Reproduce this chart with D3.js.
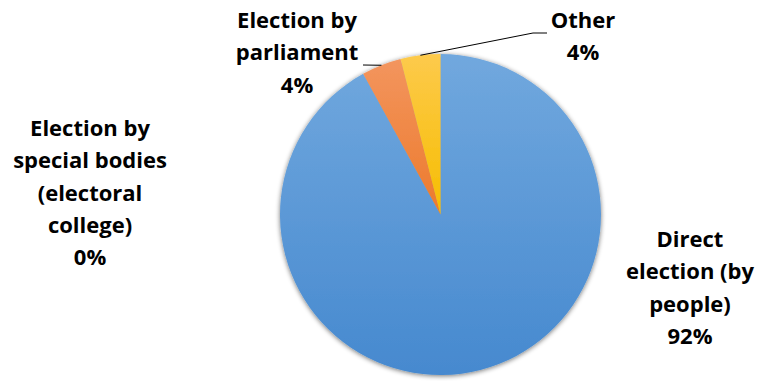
<!DOCTYPE html>
<html>
<head>
<meta charset="utf-8">
<script src="https://cdn.jsdelivr.net/npm/d3@7"></script>
<style>
  html, body { margin: 0; padding: 0; background: #ffffff; }
  svg { display: block; }
  .lbl { font-family: "Open Sans", sans-serif; font-weight: 700; font-size: 22px; fill: #000; }
</style>
</head>
<body>
<svg id="chart" width="757" height="381"></svg>
<script>
// Method of electing the head of state, share of countries (%)
const categories = [
  "Direct election (by people)",
  "Election by special bodies (electoral college)",
  "Election by parliament",
  "Other"
];
const shares = [92, 0, 4, 4];
const percentLabels = ["92%", "0%", "4%", "4%"];

// Label text split over lines, in the same order as categories
const labelLines = [
  ["Direct", "election (by", "people)"],
  ["Election by", "special bodies", "(electoral", "college)"],
  ["Election by", "parliament"],
  ["Other"]
];

const colorsTop = ["#71a8de", "#71a8de", "#f3955e", "#fdca4c"];
const colorsBottom = ["#4689cf", "#4689cf", "#ec7a2c", "#f6bd00"];

const width = 757, height = 381;
const cx = 440.5, cy = 214.5, radius = 160.5;
const lineGap = 32.3;

const svg = d3.select("#chart");
const defs = svg.append("defs");

// soft outer shadow beneath the pie
const shadow = defs.append("filter")
  .attr("id", "pieShadow")
  .attr("x", "-10%").attr("y", "-10%")
  .attr("width", "120%").attr("height", "120%");
shadow.append("feGaussianBlur").attr("in", "SourceAlpha").attr("stdDeviation", 2.5).attr("result", "blur");
shadow.append("feOffset").attr("in", "blur").attr("dx", 0).attr("dy", 1).attr("result", "off");
shadow.append("feComponentTransfer").attr("in", "off").attr("result", "soft")
  .append("feFuncA").attr("type", "linear").attr("slope", 0.55);
const merge = shadow.append("feMerge");
merge.append("feMergeNode").attr("in", "soft");
merge.append("feMergeNode").attr("in", "SourceGraphic");

categories.forEach((c, i) => {
  const g = defs.append("linearGradient")
    .attr("id", "grad" + i)
    .attr("x1", 0).attr("y1", 0).attr("x2", 0).attr("y2", 1);
  g.append("stop").attr("offset", "0%").attr("stop-color", colorsTop[i]);
  g.append("stop").attr("offset", "100%").attr("stop-color", colorsBottom[i]);
});

const pie = d3.pie().sort(null).value(d => d);
const arcs = pie(shares);
const arc = d3.arc().innerRadius(0).outerRadius(radius);

const pieG = svg.append("g")
  .attr("transform", `translate(${cx},${cy})`)
  .attr("filter", "url(#pieShadow)");

pieG.selectAll("path")
  .data(arcs)
  .join("path")
  .attr("d", arc)
  .attr("fill", (d, i) => `url(#grad${i})`);

// label anchors (centre of the text block, first baseline)
const labelPos = [
  { x: 690, y: 247 },
  { x: 90,  y: 136 },
  { x: 297, y: 28 },
  { x: 583, y: 28 }
];

labelPos.forEach((p, i) => {
  const t = svg.append("text")
    .attr("class", "lbl")
    .attr("text-anchor", "middle");
  const lines = labelLines[i].concat([percentLabels[i]]);
  lines.forEach((ln, k) => {
    t.append("tspan").attr("x", p.x).attr("y", p.y + k * lineGap).text(ln);
  });
});

// leader lines from the slice edge (mid-angle) to the label
function edgePoint(d) {
  const a = (d.startAngle + d.endAngle) / 2;
  return [cx + radius * Math.sin(a), cy - radius * Math.cos(a)];
}
const leaders = [
  { i: 2, pts: [[363, 65]] },
  { i: 3, pts: [[533, 33], [547, 33]] }
];
leaders.forEach(L => {
  const pts = [edgePoint(arcs[L.i])].concat(L.pts);
  svg.append("path")
    .attr("d", d3.line()(pts))
    .attr("fill", "none")
    .attr("stroke", "#000")
    .attr("stroke-width", 1);
});
</script>
</body>
</html>
